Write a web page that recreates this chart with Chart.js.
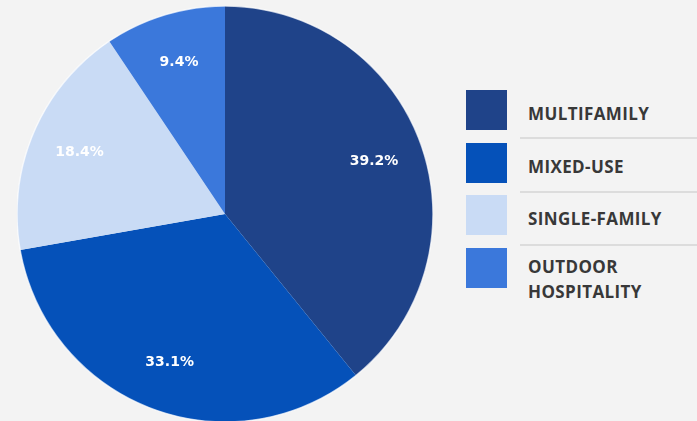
<!DOCTYPE html>
<html>
<head>
<meta charset="utf-8">
<script src="https://cdn.jsdelivr.net/npm/chart.js@4.4.1/dist/chart.umd.min.js"></script>
<style>
  html, body { margin: 0; padding: 0; width: 697px; height: 421px; overflow: hidden; background: #f3f3f3; }
  #pie { position: absolute; left: 17px; top: 6px; }
  .swatch { position: absolute; left: 466px; width: 41px; height: 40px; }
  .name { position: absolute; left: 528px; font-family: "Open Sans", sans-serif; font-weight: 700; font-size: 17px; letter-spacing: 0.4px; line-height: 25px; color: #383838; }
  .rule { position: absolute; left: 520px; width: 177px; height: 2px; background: #dcdcdc; }
</style>
</head>
<body>
<canvas id="pie" width="416" height="416"></canvas>
<div id="legend"></div>
<script>
const segments = ['MULTIFAMILY', 'MIXED-USE', 'SINGLE-FAMILY', 'OUTDOOR HOSPITALITY'];
const shares = [39.2, 33.1, 18.4, 9.4];
const colors = ['#1f4389', '#0551b9', '#c9dbf5', '#3b78db'];

// percentage text inside each slice
const sliceLabels = {
	id: 'sliceLabels',
	afterDatasetsDraw(chart) {
		const ctx = chart.ctx;
		const meta = chart.getDatasetMeta(0);
		ctx.save();
		ctx.font = 'bold 14px "DejaVu Sans", sans-serif';
		ctx.fillStyle = '#ffffff';
		ctx.textAlign = 'center';
		ctx.textBaseline = 'middle';
		meta.data.forEach((arc, i) => {
			const p = arc.getProps(['x', 'y', 'startAngle', 'endAngle', 'outerRadius']);
			const mid = (p.startAngle + p.endAngle) / 2;
			const r = p.outerRadius * 0.76;
			ctx.fillText(shares[i] + '%', p.x + Math.cos(mid) * r, p.y + Math.sin(mid) * r);
		});
		// thin light rim around the pie
		const a = meta.data[0].getProps(['x', 'y', 'outerRadius']);
		ctx.beginPath();
		ctx.arc(a.x, a.y, a.outerRadius, 0, Math.PI * 2);
		ctx.strokeStyle = 'rgba(255,255,255,0.7)';
		ctx.lineWidth = 1.5;
		ctx.stroke();
		ctx.restore();
	}
};

const pieChart = new Chart(document.getElementById('pie'), {
	type: 'pie',
	data: {
		labels: segments,
		datasets: [{
			data: shares,
			backgroundColor: colors,
			borderWidth: 0,
		}]
	},
	options: {
		responsive: false,
		animation: false,
		layout: { padding: 0 },
		plugins: {
			legend: { display: false },
			tooltip: { enabled: false },
		}
	},
	plugins: [sliceLabels]
});

// legend on the right, built from the chart data
const legend = document.getElementById('legend');
segments.forEach((name, i) => {
	const top = 90 + i * 52.7;
	const sw = document.createElement('div');
	sw.className = 'swatch';
	sw.style.top = top + 'px';
	sw.style.background = colors[i];
	legend.appendChild(sw);

	const words = name.split(' ');
	const txt = document.createElement('div');
	txt.className = 'name';
	const wrapped = name.length > 15;
	txt.innerHTML = wrapped ? words.join('<br>') : name;
	txt.style.top = (top + (wrapped ? 6 : 11)) + 'px';
	legend.appendChild(txt);

	if (i < segments.length - 1) {
		const rule = document.createElement('div');
		rule.className = 'rule';
		rule.style.top = (137 + i * 53.5) + 'px';
		legend.appendChild(rule);
	}
});
</script>
</body>
</html>
